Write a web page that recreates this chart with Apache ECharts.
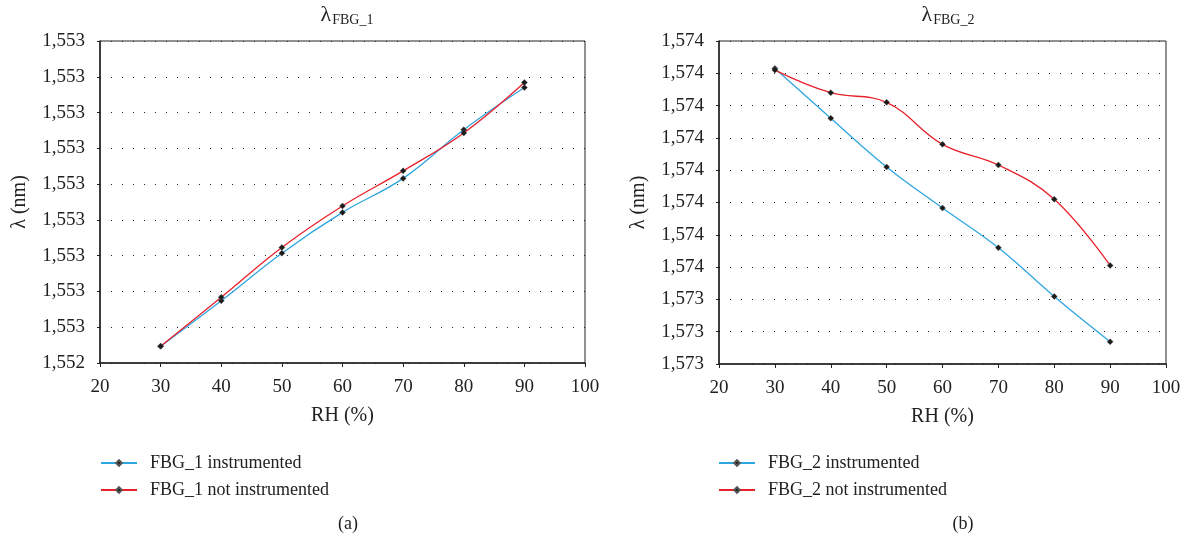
<!DOCTYPE html>
<html>
<head>
<meta charset="utf-8">
<script src="https://cdn.jsdelivr.net/npm/echarts@6/dist/echarts.min.js"></script>
<style>
  html, body { margin: 0; padding: 0; background: #fff; }
  #main { width: 1189px; height: 546px; }
</style>
</head>
<body>
<div id="main"></div>
<script>
// RH (%) values
var rh = [30, 40, 50, 60, 70, 80, 90];

// (a) FBG_1, wavelength in nm
var fbg1Instr = [1552.447, 1552.574, 1552.707, 1552.821, 1552.916, 1553.052, 1553.170];
var fbg1NotInstr = [1552.447, 1552.584, 1552.723, 1552.839, 1552.937, 1553.043, 1553.184];

// (b) FBG_2, wavelength in nm
var fbg2Instr = [1574.115, 1573.961, 1573.810, 1573.683, 1573.560, 1573.409, 1573.269];
var fbg2NotInstr = [1574.110, 1574.040, 1574.010, 1573.880, 1573.816, 1573.710, 1573.505];

// y tick labels as printed (bottom to top)
var yLabels1 = ['1,552', '1,553', '1,553', '1,553', '1,553', '1,553', '1,553', '1,553', '1,553', '1,553'];
var yLabels2 = ['1,573', '1,573', '1,573', '1,574', '1,574', '1,574', '1,574', '1,574', '1,574', '1,574', '1,574'];

var names1 = ['FBG_1 instrumented', 'FBG_1 not instrumented'];
var names2 = ['FBG_2 instrumented', 'FBG_2 not instrumented'];

var font = '"Liberation Serif", "DejaVu Serif", serif';
var blue = '#2ea6e0';
var red = '#e8212b';

function pairs(xs, ys) {
  var out = [];
  for (var i = 0; i < xs.length; i++) {
    out.push([xs[i], ys[i]]);
  }
  return out;
}

function xAxisOf(idx) {
  return {
    type: 'value',
    gridIndex: idx,
    min: 20,
    max: 100,
    interval: 10,
    name: 'RH (%)',
    nameLocation: 'middle',
    nameGap: 43,
    nameTextStyle: { fontFamily: font, fontSize: 20, color: '#222' },
    axisLine: { show: true, lineStyle: { color: '#222', width: 1.5 } },
    axisTick: { show: true, length: 4, lineStyle: { color: '#222' } },
    axisLabel: { fontFamily: font, fontSize: 19, color: '#222', margin: 15 },
    splitLine: { show: false }
  };
}

function yAxisOf(idx, min, max, labels) {
  return {
    type: 'value',
    gridIndex: idx,
    min: min,
    max: max,
    interval: 0.1,
    name: 'λ (nm)',
    nameLocation: 'middle',
    nameGap: 70,
    nameTextStyle: { fontFamily: font, fontSize: 20, color: '#222' },
    axisLine: { show: true, lineStyle: { color: '#222', width: 1.5 } },
    axisTick: { show: true, length: 3, lineStyle: { color: '#222' } },
    axisLabel: {
      fontFamily: font, fontSize: 19, color: '#222', margin: 15,
      formatter: function (v, i) { return labels[i]; }
    },
    splitLine: { show: true, lineStyle: { color: '#222', width: 1, type: [1, 10] } }
  };
}

function lineSeries(name, xi, data, color) {
  return {
    name: name,
    type: 'line',
    xAxisIndex: xi,
    yAxisIndex: xi,
    data: pairs(rh, data),
    smooth: 0.4,
    symbol: 'diamond',
    symbolSize: 6,
    showAllSymbol: true,
    lineStyle: { color: color, width: 1.3 },
    itemStyle: { color: '#1a1a1a', borderColor: '#555', borderWidth: 0.5 },
    z: 3
  };
}

function titleText(sub) {
  return {
    text: '{l|λ}{s|' + sub + '}',
    textStyle: {
      rich: {
        l: { fontFamily: font, fontSize: 22, fontWeight: 'normal', color: '#222', lineHeight: 24 },
        s: { fontFamily: font, fontSize: 14, fontWeight: 'normal', color: '#222', lineHeight: 24, verticalAlign: 'bottom', padding: [8, 0, 0, 1] }
      }
    }
  };
}

function legendOf(names, x) {
  return {
    data: names, orient: 'vertical', left: x, top: 449,
    itemWidth: 36, itemHeight: 7, itemGap: 9,
    textStyle: { fontFamily: font, fontSize: 18, color: '#222', lineHeight: 17, padding: [0, 0, 0, 8] }
  };
}

var myChart = echarts.init(document.getElementById('main'));
var option = {
  animation: false,
  backgroundColor: '#fff',
  title: [
    Object.assign({ left: 342, top: -2, textAlign: 'center' }, titleText('FBG_1')),
    Object.assign({ left: 943, top: -2, textAlign: 'center' }, titleText('FBG_2')),
    { text: '(a)', left: 343, top: 510, textAlign: 'center', textStyle: { fontFamily: font, fontSize: 18, fontWeight: 'normal', color: '#222' } },
    { text: '(b)', left: 958, top: 510, textAlign: 'center', textStyle: { fontFamily: font, fontSize: 18, fontWeight: 'normal', color: '#222' } }
  ],
  grid: [
    { left: 100, right: 604, top: 41, bottom: 183, show: true, borderColor: '#222', borderWidth: 1, backgroundColor: 'transparent' },
    { left: 719, right: 23, top: 41, bottom: 182, show: true, borderColor: '#222', borderWidth: 1, backgroundColor: 'transparent' }
  ],
  legend: [legendOf(names1, 95), legendOf(names2, 713)],
  xAxis: [xAxisOf(0), xAxisOf(1)],
  yAxis: [
    yAxisOf(0, 1552.4, 1553.3, yLabels1),
    yAxisOf(1, 1573.2, 1574.2, yLabels2)
  ],
  series: [
    lineSeries(names1[0], 0, fbg1Instr, blue),
    lineSeries(names1[1], 0, fbg1NotInstr, red),
    lineSeries(names2[0], 1, fbg2Instr, blue),
    lineSeries(names2[1], 1, fbg2NotInstr, red)
  ]
};
option && myChart.setOption(option);
</script>
</body>
</html>
